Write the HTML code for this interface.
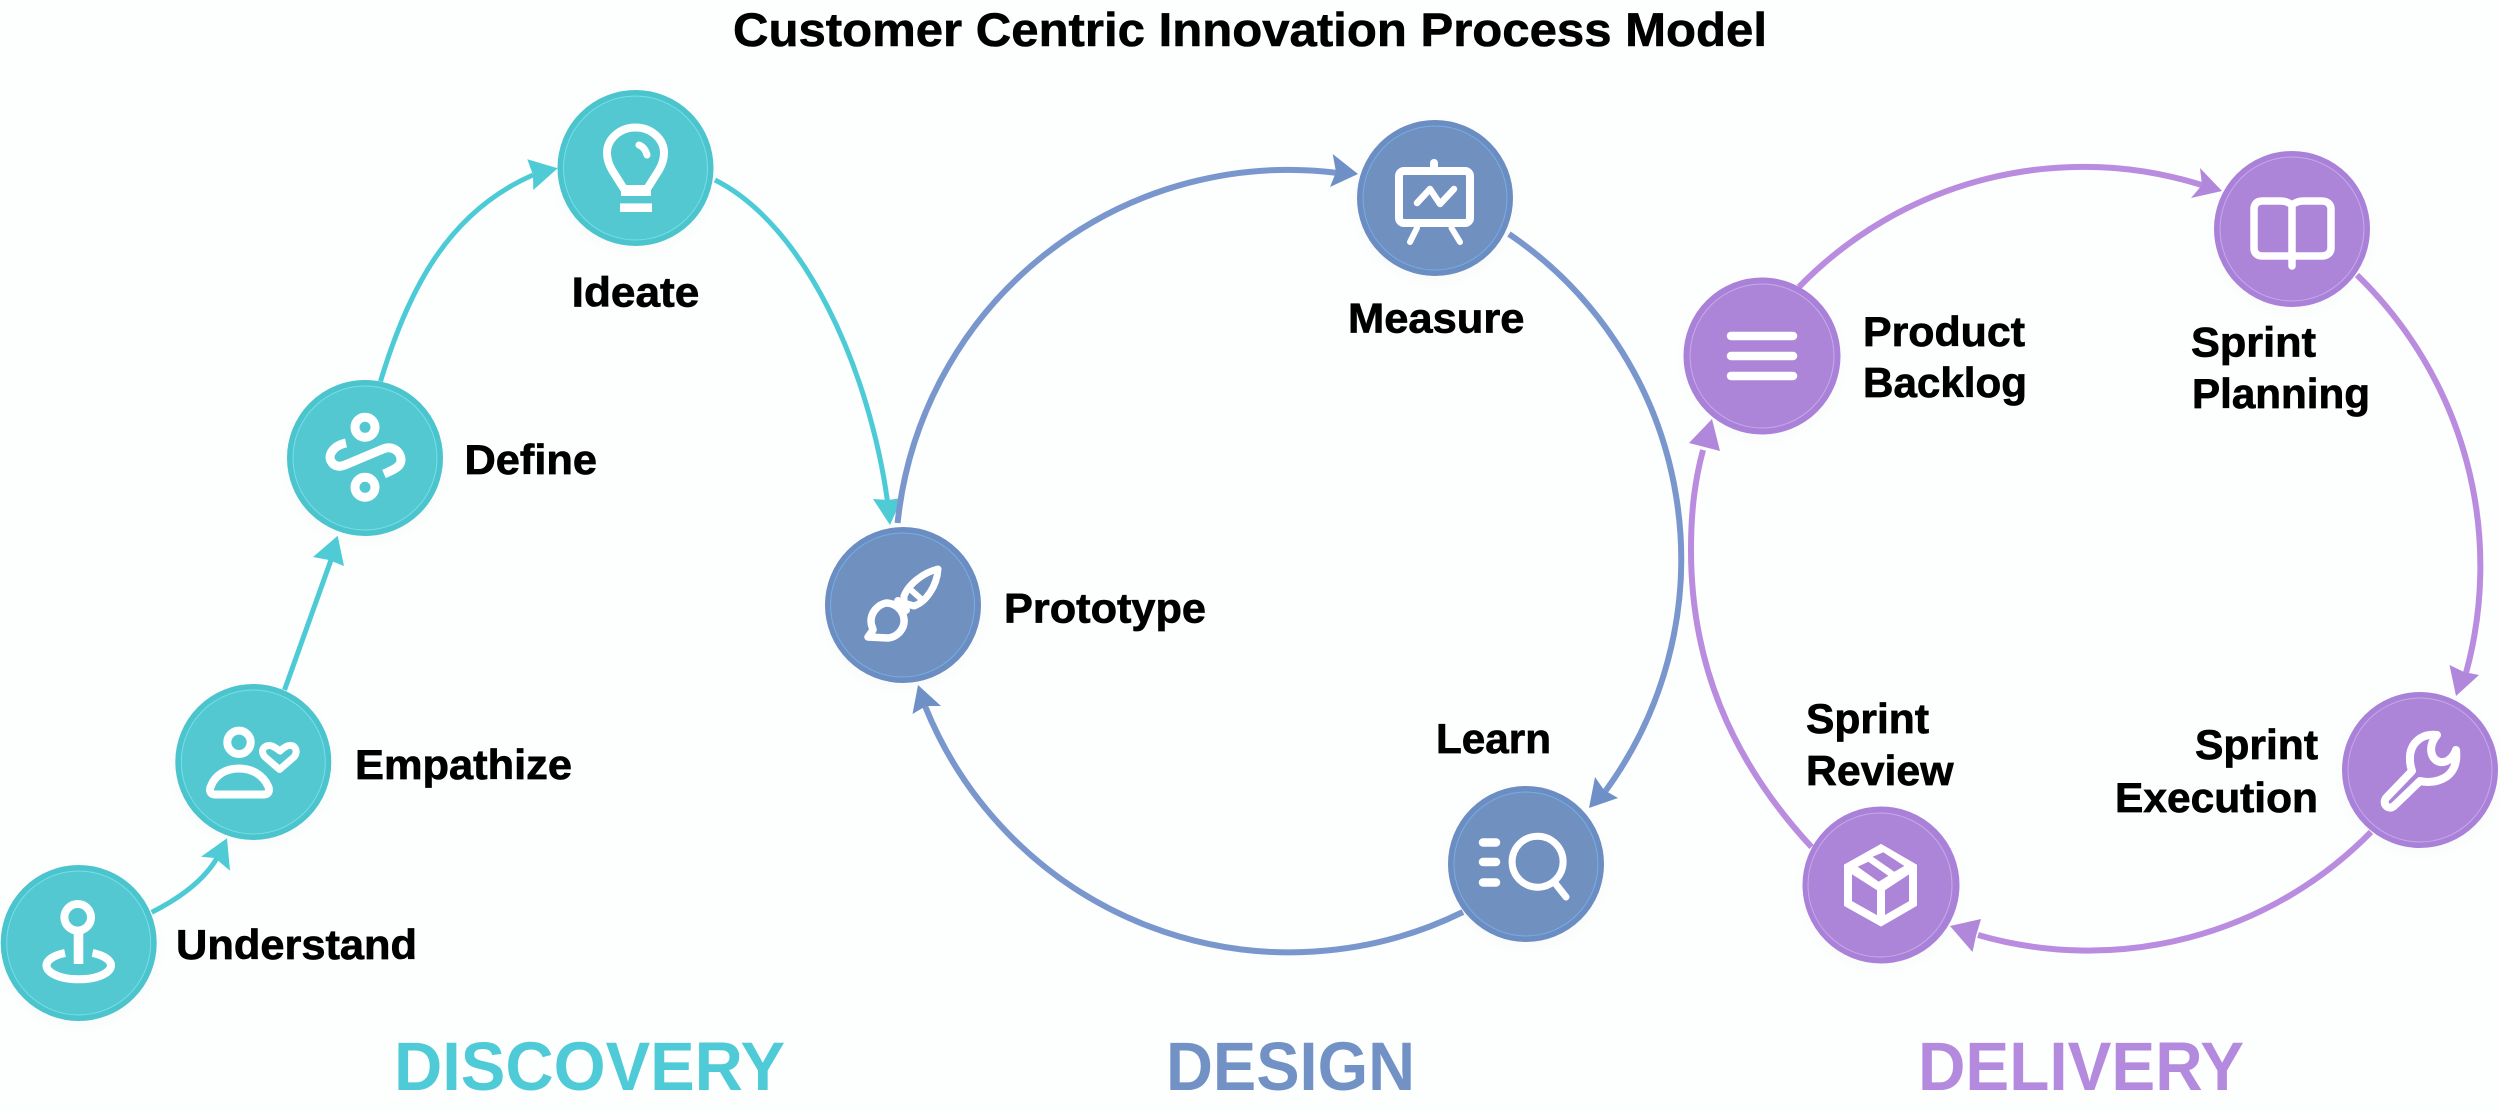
<!DOCTYPE html>
<html lang="en">
<head>
<meta charset="utf-8">
<title>Customer Centric Innovation Process Model</title>
<style>
html,body{margin:0;padding:0;background:#fdfefe;width:2500px;height:1113px;overflow:hidden}
svg{display:block}
text{font-family:"Liberation Sans",Arial,sans-serif;font-weight:700;fill:#000}
.l{font-size:42px;stroke:#000;stroke-width:.7px}
.h{font-size:69px}
.line{fill:none;stroke-linecap:butt}
.ic{fill:none;stroke:#fff;stroke-linecap:round;stroke-linejoin:round}
.b{stroke-linecap:butt}
</style>
</head>
<body>
<svg width="2500" height="1113" viewBox="0 0 2500 1113" xmlns="http://www.w3.org/2000/svg">
<defs>
<filter id="s" x="-30%" y="-30%" width="160%" height="160%"><feGaussianBlur stdDeviation="8"/></filter>
</defs>
<rect width="2500" height="1113" fill="#fdfefe"/>

<!-- soft shadows -->
<g filter="url(#s)" fill="#000" opacity=".02">
<circle cx="635.5" cy="172" r="78"/><circle cx="365" cy="462" r="78"/><circle cx="253.5" cy="766" r="78"/><circle cx="79" cy="947" r="78"/>
<circle cx="903" cy="609" r="78"/><circle cx="1435" cy="202" r="78"/><circle cx="1526" cy="868" r="78"/>
<circle cx="1762" cy="360" r="78"/><circle cx="2292" cy="233" r="78"/><circle cx="2420" cy="774" r="78"/><circle cx="1881" cy="889" r="78"/>
</g>

<!-- title -->
<text x="733" y="46" font-size="47.5" textLength="1034" lengthAdjust="spacingAndGlyphs" stroke="#000" stroke-width=".6">Customer Centric Innovation Process Model</text>

<!-- TEAL connectors -->
<g class="line" stroke="#4ccbd6" stroke-width="5">
<path d="M151.700 912.300C178 899 203 882 217 858"/>
<path d="M284.500 690L331 560"/>
<path d="M380.500 381.400C408 290 448 212 533 175"/>
<path d="M715 180C805 225 870 370 888 505"/>
</g>
<g fill="#4fcbd6">
<polygon points="227,838.300 201,856.700 215,858 230,870.700"/>
<polygon points="337.700,535.700 313,557 329,560 344,566"/>
<polygon points="557.700,168.300 527.300,159.300 533,175 533.300,190"/>
<polygon points="890,525 873,499 888,500 902,498"/>
</g>

<!-- DESIGN connectors -->
<g class="line" stroke="#7a97cd" stroke-width="6">
<path d="M897.600 523A393 393 0 0 1 1338 173"/>
<path d="M1509 234A393 393 0 0 1 1601 797"/>
<path d="M1463 912A393 393 0 0 1 925 706"/>
</g>
<g fill="#6f90c6">
<polygon points="1358,174 1332.700,154 1336,172 1330,187"/>
<polygon points="1589,808 1595,777 1604,790 1618,798"/>
<polygon points="918,685 912.500,714 926,706 941,706"/>
</g>

<!-- DELIVERY connectors -->
<g class="line" stroke="#b98ce0" stroke-width="6">
<path d="M1799 287A395 393 0 0 1 2205 186"/>
<path d="M2357 275A405 405 0 0 1 2464 680"/>
<path d="M2371 832A395 393 0 0 1 1978 935"/>
<path d="M1811.500 847C1729 758 1691 660 1691 550C1691 510 1695 480 1703 450"/>
</g>
<g fill="#b187dc">
<polygon points="2222,191 2200,168 2202,185 2191,198"/>
<polygon points="2456,696 2449.500,665 2464,672 2479,675"/>
<polygon points="1950,926 1981,919 1976,936 1972.500,952"/>
<polygon points="1712,419 1689,443 1720,451"/>
</g>

<!-- NODES teal -->
<g fill="#53c8d1" stroke="#4bc4cd" stroke-width="6">
<circle cx="635.500" cy="168" r="75"/>
<circle cx="365" cy="458" r="75"/>
<circle cx="253.300" cy="762" r="75"/>
<circle cx="78.700" cy="943" r="75"/>
</g>
<g fill="none" stroke="#7de4ea" stroke-width="1" opacity=".85">
<circle cx="635.500" cy="168" r="72"/>
<circle cx="365" cy="458" r="72"/>
<circle cx="253.300" cy="762" r="72"/>
<circle cx="78.700" cy="943" r="72"/>
</g>
<!-- NODES blue -->
<g fill="#7090c0" stroke="#6b8dc1" stroke-width="6">
<circle cx="903" cy="605" r="75"/>
<circle cx="1435" cy="198" r="75"/>
<circle cx="1526" cy="864" r="75"/>
</g>
<g fill="none" stroke="#78b4ea" stroke-width="1" opacity=".85">
<circle cx="902.500" cy="605" r="72"/>
<circle cx="1435" cy="198" r="72"/>
<circle cx="1526" cy="864" r="72"/>
</g>
<!-- NODES purple -->
<g fill="#ac85d8" stroke="#a981d8" stroke-width="6">
<circle cx="1762" cy="356" r="75.500"/>
<circle cx="2292" cy="229" r="75"/>
<circle cx="2420" cy="770" r="75"/>
<circle cx="1881" cy="885" r="75.500"/>
</g>
<g fill="none" stroke="#cbb0ec" stroke-width="1" opacity=".85">
<circle cx="1762" cy="356" r="72"/>
<circle cx="2292" cy="229" r="72"/>
<circle cx="2420" cy="770" r="72"/>
<circle cx="1880" cy="885" r="72"/>
</g>

<!-- ICONS -->
<!-- bulb -->
<g class="ic" stroke-width="8">
<path d="M624 189L612 170C608 163 607 158 607 153A28.500 25.500 0 0 1 664 153C664 158 663 163 659 170L647 189"/>
<path d="M621 192H651" class="b"/>
<path d="M624 189H647" class="b"/>
<path d="M620 207.700H652" class="b" stroke-width="8.700"/>
<path d="M639 145C644 147 646 151 647 155" stroke-width="7"/>
</g>
<!-- define -->
<g class="ic" stroke-width="9">
<circle cx="365" cy="427.300" r="10"/>
<circle cx="365" cy="487.300" r="10"/>
<path class="b" d="M346 443C332 446 328 456 331 461C334 467 340 467 345 465L383 449C393 445 401 452 401 460C401 467 393 470 384 474"/>
</g>
<!-- empathize -->
<g class="ic" stroke-width="8">
<circle cx="239" cy="742.300" r="11.700"/>
<path d="M215 794.500H264C269 794.500 270 790 268 786C263 775 252 768.500 239 768.500C226 768.500 215 775 211 786C209 790 210 794.500 215 794.500Z"/>
<path d="M279.500 769.500L265 757C259 750 265 745 270 745.500C274 746 277 749 280 751C283 748 287 745 291 745.500C296 746 298 752 294 757Z" stroke-width="7"/>
</g>
<!-- understand -->
<g class="ic" stroke-width="8">
<circle cx="77.700" cy="917.300" r="13.300"/>
<path class="b" d="M78.500 930V964" stroke-width="9.600"/>
<path class="b" d="M65 953A32.300 13.800 0 1 0 92.500 953"/>
</g>
<!-- brush -->
<g class="ic" stroke-width="7">
<path d="M938 569C925 572 909 583 904 596L904 603L914 606C926 602 937 586 938 569Z"/>
<path d="M911 590L920 598" stroke-width="6"/>
<path d="M898 601L906 610" stroke-width="8"/>
<path d="M886 603C877 605 871 613 871 621C871 626 873 628 873 630L868 637L888 638C898 637 905 628 904 619C903 610 895 603 886 603Z" stroke-width="7.500"/>
</g>
<!-- measure -->
<g class="ic" stroke-width="8">
<rect x="1399" y="171" width="71" height="52" rx="5"/>
<path d="M1434 163V168"/>
<path d="M1417 228L1410 242M1451.500 228L1460 242" stroke-width="6"/>
<path d="M1417 203L1430 189L1440 204L1454 189" stroke-width="6.500"/>
</g>
<!-- learn -->
<g class="ic" stroke-width="7">
<circle cx="1537.600" cy="861.700" r="25.500"/>
<path d="M1555 883L1566 897"/>
<path d="M1483 842.500H1496M1483 862H1496M1483 882.500H1496" stroke-width="8.500"/>
</g>
<!-- backlog -->
<g class="ic" stroke-width="8.500">
<path d="M1731 336H1793M1731 356H1793M1731 376H1793"/>
</g>
<!-- book -->
<g class="ic" stroke-width="7.500">
<path d="M2292 205C2288 202 2285 201 2280 201H2262C2257 201 2254 204 2254 209V248C2254 253 2257 256 2262 256H2322C2327 256 2331 253 2331 248V209C2331 204 2327 201 2322 201H2304C2299 201 2296 202 2292 205V266"/>
</g>
<!-- wrench -->
<g class="ic" stroke-width="8">
<path d="M2437 735C2420 733 2409 745 2410 760C2410 765 2411 768 2412 771L2387 797C2381 803 2388 811 2394 806L2420 781C2432 784 2446 780 2452 771C2456 765 2457 758 2456 750C2453 758 2447 763 2440 762C2431 760 2427 747 2437 735Z"/>
</g>
<!-- box -->
<polygon points="1881,848.500 1913,867 1881,888 1848,867" fill="#fff"/>
<g class="ic" stroke-width="8" style="stroke-linejoin:miter">
<polygon points="1881,848.500 1913,867 1913,903.500 1881,922 1848,903.500 1848,867"/>
<path class="b" d="M1848 867L1881 888L1913 867M1881 888V922"/>
</g>
<polygon points="1857.700,866.700 1868.300,861.700 1888.300,875.700 1878.700,881.700" fill="#ac85d8"/>
<polygon points="1872.700,856.700 1883.300,852.300 1904.300,866 1894.300,871.700" fill="#ac85d8"/>

<!-- LABELS -->
<g class="l">
<text x="571.700" y="306.700" textLength="127.600" lengthAdjust="spacingAndGlyphs">Ideate</text>
<text x="464.500" y="474" textLength="132.500" lengthAdjust="spacingAndGlyphs">Define</text>
<text x="355" y="779" textLength="217" lengthAdjust="spacingAndGlyphs">Empathize</text>
<text x="176" y="959" textLength="241" lengthAdjust="spacingAndGlyphs">Understand</text>
<text x="1004" y="622.500" textLength="202" lengthAdjust="spacingAndGlyphs">Prototype</text>
<text x="1348" y="332.500" textLength="176.500" lengthAdjust="spacingAndGlyphs">Measure</text>
<text x="1436" y="753" textLength="115" lengthAdjust="spacingAndGlyphs">Learn</text>
<text x="1863" y="346" textLength="162" lengthAdjust="spacingAndGlyphs">Product</text>
<text x="1863" y="397" textLength="164" lengthAdjust="spacingAndGlyphs">Backlog</text>
<text x="2191" y="356.700" textLength="125" lengthAdjust="spacingAndGlyphs">Sprint</text>
<text x="2192" y="408" textLength="178" lengthAdjust="spacingAndGlyphs">Planning</text>
<text x="1806" y="733" textLength="123" lengthAdjust="spacingAndGlyphs">Sprint</text>
<text x="1806" y="785" textLength="147.500" lengthAdjust="spacingAndGlyphs">Review</text>
<text x="2195" y="759" textLength="123" lengthAdjust="spacingAndGlyphs">Sprint</text>
<text x="2115" y="812" textLength="203" lengthAdjust="spacingAndGlyphs">Execution</text>
</g>

<!-- SECTION HEADINGS -->
<text class="h" x="394" y="1090" textLength="391" lengthAdjust="spacingAndGlyphs" style="fill:#4ecbd6">DISCOVERY</text>
<text class="h" x="1166" y="1090" textLength="249" lengthAdjust="spacingAndGlyphs" style="fill:#7292c6">DESIGN</text>
<text class="h" x="1918" y="1090" textLength="326" lengthAdjust="spacingAndGlyphs" style="fill:#b48ade">DELIVERY</text>
</svg>
</body>
</html>
